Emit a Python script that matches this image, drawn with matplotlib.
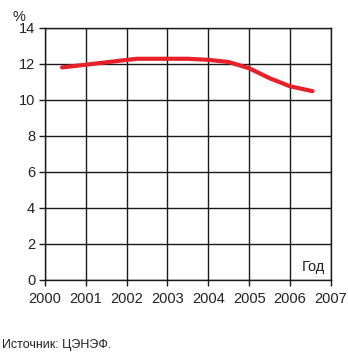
import matplotlib
matplotlib.use("Agg")
import matplotlib.pyplot as plt

# share of something (%)
years = [2000.42, 2001.0, 2001.75, 2002.25, 2003.0, 2003.5, 2004.0, 2004.5, 2005.0, 2005.5, 2006.0, 2006.55]
values = [11.8, 11.95, 12.15, 12.28, 12.28, 12.28, 12.22, 12.1, 11.75, 11.2, 10.75, 10.48]

x_ticks = [2000, 2001, 2002, 2003, 2004, 2005, 2006, 2007]
y_ticks = [0, 2, 4, 6, 8, 10, 12, 14]

plt.rcParams['font.family'] = ['Liberation Sans', 'DejaVu Sans']

fig = plt.figure(figsize=(3.48, 3.52), dpi=100)
ax = fig.add_axes([0.129, 0.205, 0.822, 0.716])

ax.plot(years, values, color='#e8202a', linewidth=3.0, solid_capstyle='round', zorder=3)

ax.set_xlim(2000, 2007)
ax.set_ylim(0, 14)
ax.set_xticks(x_ticks)
ax.set_yticks(y_ticks)
ax.set_xticklabels([str(t) for t in x_ticks])
ax.grid(True, color='#1a1a1a', linewidth=1.0)
for s in ax.spines.values():
    s.set_color('#1a1a1a')
    s.set_linewidth(1.0)
ax.tick_params(axis='both', labelsize=10.5, colors='#1a1a1a', labelcolor='#222222',
               length=4, width=1.0, direction='out')
ax.tick_params(axis='x', pad=5)
ax.tick_params(axis='y', pad=3)

fig.text(0.055, 0.952, '%', fontsize=10.5, color='#222222', va='center', ha='center')
ax.text(0.98, 0.05, 'Год', transform=ax.transAxes, fontsize=10.5, color='#222222',
        ha='right', va='center')
fig.text(0.005, 0.02, 'Источник: ЦЭНЭФ.', fontsize=9, color='#222222', ha='left', va='center')

fig.savefig('out.png', dpi=100)
